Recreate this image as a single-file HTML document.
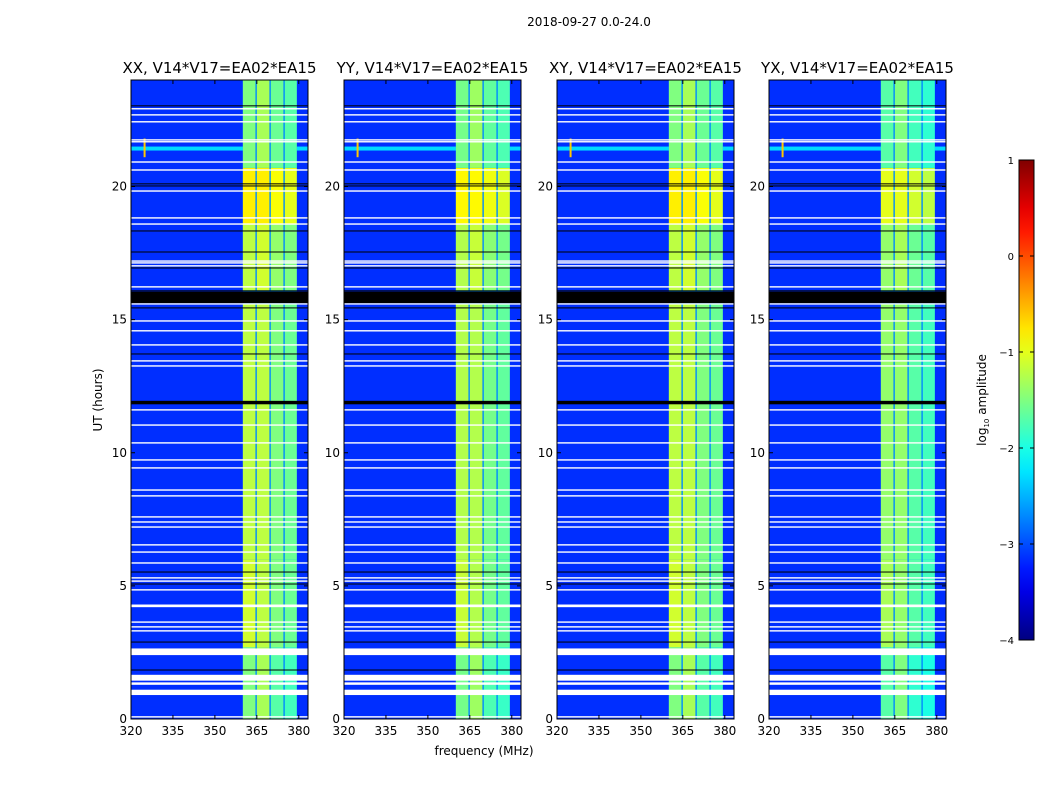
<!DOCTYPE html>
<html><head><meta charset="utf-8"><style>
body{margin:0;background:#fff;width:1050px;height:800px;overflow:hidden;font-family:"DejaVu Sans","Liberation Sans",sans-serif;}
svg text{font-family:"DejaVu Sans","Liberation Sans",sans-serif;}
</style></head><body>
<svg id="fig" width="1050" height="800"></svg>
<script>
// ---- data ----
const panelTitles=["XX, V14*V17=EA02*EA15","YY, V14*V17=EA02*EA15","XY, V14*V17=EA02*EA15","YX, V14*V17=EA02*EA15"];
const panelOffsets=[0,-0.05,0,-0.2];
const subBands=[[360,364.5],[365,369.5],[370,374.5],[375,379.3]];
const segStart=[0,2.7,6,16.1,18.6,20.7];
const segEnd=[2.7,6,15.6,18.6,20.7,24];
const segLevels=[[-1.5,-1.3,-1.7,-1.8],[-1.1,-1.2,-1.5,-1.6],[-1.2,-1.2,-1.5,-1.6],[-1.2,-1.1,-1.4,-1.5],[-0.8,-0.8,-0.9,-1.0],[-1.5,-1.3,-1.6,-1.7]];
const backgroundLevel=-3.15;
const separatorLevel=-2.7;
const whiteLines=[22.92,22.69,22.43,21.75,21.68,20.92,20.62,19.83,18.82,18.59,17.2,17.13,17.02,16.23,15.59,14.95,14.58,14.05,13.45,13.26,11.61,11.04,10.37,9.73,9.43,8.6,8.38,7.59,7.4,7.21,6.54,6.27,5.86,5.3,5.18,4.85,3.64,3.46,3.31,1.35,1.31,0.08];
const whiteBandsStart=[4.2,2.4,1.44,0.9];
const whiteBandsEnd=[4.3,2.65,1.66,1.1];
const blackLines=[23.03,20.1,20.02,18.33,17.54,16.94,16.08,15.44,13.71,5.52,5.07,2.89,1.84];
const blackBandsStart=[15.62,11.82];
const blackBandsEnd=[16.05,11.95];
const rfiBandStart=21.35, rfiBandEnd=21.5, rfiLevel=-2.3;
const xTicks=[320,335,350,365,380];
const yTicks=[0,5,10,15,20];
const cbTicks=[1,0,-1,-2,-3,-4];
// ---- layout ----
const panelX=[131,344,557,769], PW=177, PT=80, PB=719;
const fMin=320, fMax=383.3, tMin=0, tMax=24;
const cbX=1019, cbW=15, cbTop=160, cbBot=640, vMin=-4, vMax=1;
const NS="http://www.w3.org/2000/svg";
const svg=document.getElementById('fig');
function el(t,a,txt){const e=document.createElementNS(NS,t);for(const k in a)e.setAttribute(k,a[k]);if(txt!==undefined)e.textContent=txt;svg.appendChild(e);return e;}
function jet(v){let x=(v-vMin)/(vMax-vMin);x=Math.max(0,Math.min(1,x));
 const r=Math.max(0,Math.min(1,1.5-Math.abs(4*x-3))),g=Math.max(0,Math.min(1,1.5-Math.abs(4*x-2))),b=Math.max(0,Math.min(1,1.5-Math.abs(4*x-1)));
 return `rgb(${Math.round(r*255)},${Math.round(g*255)},${Math.round(b*255)})`;}
const xs=(p,f)=>panelX[p]+(f-fMin)/(fMax-fMin)*PW;
const ys=h=>PB-(h-tMin)/(tMax-tMin)*(PB-PT);
const t=el('text',{x:589,y:26,'font-size':12,'text-anchor':'middle'},'2018-09-27 0.0-24.0');

for(let p=0;p<4;p++){
 const g=document.createElementNS(NS,'g');svg.appendChild(g);
 
 const r=(x,y,w,h,c,name)=>{const e=document.createElementNS(NS,'rect');e.setAttribute('x',x);e.setAttribute('y',y);e.setAttribute('width',w);e.setAttribute('height',Math.max(h,0.1));e.setAttribute('fill',c);
  g.appendChild(e);return e;};
 r(panelX[p],PT,PW,PB-PT,jet(backgroundLevel),'background');
 r(panelX[p],ys(rfiBandEnd),PW,ys(rfiBandStart)-ys(rfiBandEnd),jet(rfiLevel),'rfi-band');
 r(xs(p,324.5),ys(21.8),2,ys(21.1)-ys(21.8),jet(-0.6),'rfi-source');
 const sepL=xs(p,subBands[0][0]),sepR=xs(p,subBands[subBands.length-1][1]);
 r(sepL,PT,sepR-sepL,PB-PT,jet(separatorLevel),'band-separators');
 for(let s=0;s<segStart.length;s++){
  for(let b=0;b<subBands.length;b++){
   const x0=xs(p,subBands[b][0]),x1=xs(p,subBands[b][1]);
   r(x0,ys(segEnd[s]),x1-x0,ys(segStart[s])-ys(segEnd[s]),jet(segLevels[s][b]+panelOffsets[p]),'subband-cell');
  }
 }
 for(let i=0;i<whiteLines.length;i++) r(panelX[p],ys(whiteLines[i])-0.7,PW,1.4,'#fff','flag-line');
 for(let i=0;i<whiteBandsStart.length;i++) r(panelX[p],ys(whiteBandsEnd[i]),PW,ys(whiteBandsStart[i])-ys(whiteBandsEnd[i]),'#fff','flag-band');
 for(let i=0;i<blackLines.length;i++) r(panelX[p],ys(blackLines[i])-0.5,PW,1,'#000','gap-line');
 for(let i=0;i<blackBandsStart.length;i++) r(panelX[p],ys(blackBandsEnd[i]),PW,ys(blackBandsStart[i])-ys(blackBandsEnd[i]),'#000','gap-band');
 const fr=el('rect',{x:panelX[p],y:PT,width:PW,height:PB-PT,fill:'none',stroke:'#000','stroke-width':1});
 
 const tt=el('text',{x:panelX[p]+PW/2,y:73,'font-size':15,'text-anchor':'middle'},panelTitles[p]);
 
 for(const v of xTicks){const x=xs(p,v);
  el('line',{x1:x,x2:x,y1:PB,y2:PB-4,stroke:'#000'});el('line',{x1:x,x2:x,y1:PT,y2:PT+4,stroke:'#000'});
  const l=el('text',{x:x,y:PB+16,'font-size':12,'text-anchor':'middle'},v);
  }
 for(const v of yTicks){const y=ys(v);
  el('line',{x1:panelX[p],x2:panelX[p]+4,y1:y,y2:y,stroke:'#000'});el('line',{x1:panelX[p]+PW,x2:panelX[p]+PW-4,y1:y,y2:y,stroke:'#000'});
  const l=el('text',{x:panelX[p]-4,y:y+4,'font-size':12,'text-anchor':'end'},v);
  }
}
const yl=el('text',{x:102,y:400,'font-size':12,'text-anchor':'middle',transform:'rotate(-90 102 400)'},'UT (hours)');

const xl=el('text',{x:484,y:755,'font-size':12,'text-anchor':'middle'},'frequency (MHz)');

// colorbar
const defs=el('defs',{});const lg=document.createElementNS(NS,'linearGradient');lg.setAttribute('id','cbg');lg.setAttribute('x1',0);lg.setAttribute('x2',0);lg.setAttribute('y1',1);lg.setAttribute('y2',0);defs.appendChild(lg);
for(let i=0;i<=20;i++){const s=document.createElementNS(NS,'stop');s.setAttribute('offset',i/20);s.setAttribute('stop-color',jet(vMin+(vMax-vMin)*i/20));lg.appendChild(s);}
const cb=el('rect',{x:cbX,y:cbTop,width:cbW,height:cbBot-cbTop,fill:'url(#cbg)',stroke:'#000'});

for(const v of cbTicks){const y=cbBot-(v-vMin)/(vMax-vMin)*(cbBot-cbTop);
 el('line',{x1:cbX,x2:cbX+4,y1:y,y2:y,stroke:'#000'});el('line',{x1:cbX+cbW,x2:cbX+cbW-4,y1:y,y2:y,stroke:'#000'});
 const l=el('text',{x:cbX-5,y:y+4,'font-size':10,'text-anchor':'end'},v<0?'\u2212'+(-v):String(v));
 }
const cl=el('text',{x:986,y:400,'font-size':12,'text-anchor':'middle',transform:'rotate(-90 986 400)'});

cl.innerHTML='log<tspan font-size="7" dy="3">10</tspan><tspan dy="-3"> amplitude</tspan>';
</script>
</body></html>
